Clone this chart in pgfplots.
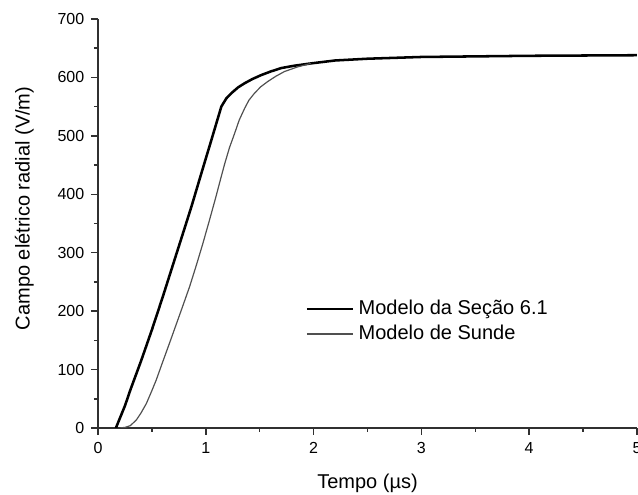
\documentclass[border=0pt]{standalone}
\usepackage{fontspec}
\setmainfont{Liberation Sans}
\usepackage{pgfplots}
\pgfplotsset{compat=1.18}
\definecolor{axgray}{HTML}{303030}
\definecolor{thingray}{HTML}{505050}
\begin{document}
\begin{tikzpicture}
\begin{axis}[
  name=ax,
  scale only axis,
  width=404.25pt, height=306.75pt,
  xmin=0, xmax=5, ymin=0, ymax=700,
  axis x line=bottom, axis y line=left,
  axis line style={-, line width=1.1pt, color=axgray},
  xtick={0,1,2,3,4,5}, ytick={0,100,...,700},
  minor x tick num=1, minor y tick num=1,
  tick align=outside,
  major tick length=5.25pt, minor tick length=3pt,
  tick style={line width=1.1pt, color=axgray},
  /pgf/number format/assume math mode=true,
  ticklabel style={font=\fontsize{12}{14}\selectfont},
  xticklabel style={yshift=-2.25pt},
  yticklabel style={xshift=-1.5pt},
  label style={font=\fontsize{15}{18}\selectfont},
  xlabel={Tempo (µs)},
  ylabel={Campo elétrico radial (V/m)},
  xlabel shift=8pt,
  ylabel shift=11pt,
  ylabel style={at={(ticklabel cs:0.537)}},
  legend cell align=left,
  legend image code/.code={\draw[#1] (0pt,0pt) -- (34.5pt,0pt);},
  legend style={draw=none, fill=none, inner sep=0pt, outer sep=0pt,
    at={(axis cs:1.925,182.4)}, anchor=west,
    font=\fontsize{15}{18}\selectfont,
    column sep=2.5pt, row sep=2.75pt,
    nodes={inner sep=1pt, text height=11pt, text depth=3pt}},
]
\addplot[black, line width=1.9pt] coordinates {
(0.166,0) (0.25,38) (0.30,65) (0.40,115) (0.50,168) (0.60,224) (0.70,282)
(0.80,340) (0.867,379) (0.959,436) (1.052,493) (1.144,550) (1.19,564)
(1.237,573) (1.30,583) (1.36,590) (1.43,597) (1.514,604) (1.60,610)
(1.70,616) (1.82,620) (1.976,624) (2.2,629) (2.5,632) (3.0,635)
(3.5,636) (4.0,637) (4.5,637.5) (5.0,638)
};
\addlegendentry{Modelo da Seção 6.1}
\addplot[thingray, line width=0.9pt] coordinates {
(0.20,0) (0.25,1) (0.30,4) (0.357,14) (0.40,26) (0.449,42) (0.50,64) (0.54,82)
(0.60,113) (0.663,145) (0.725,177) (0.785,208) (0.85,242) (0.908,276)
(0.97,314) (1.03,353) (1.09,393) (1.14,428) (1.175,452) (1.22,480)
(1.267,504) (1.31,527) (1.36,547) (1.40,561) (1.452,573) (1.51,584)
(1.575,593) (1.65,602) (1.729,610) (1.852,618) (1.976,624)
};
\addlegendentry{Modelo de Sunde}
\end{axis}
\pgfresetboundingbox
\path ([shift={(-73.5pt,-50.25pt)}]ax.south west) rectangle ([shift={(0.75pt,14.25pt)}]ax.north east);
\end{tikzpicture}
\end{document}
